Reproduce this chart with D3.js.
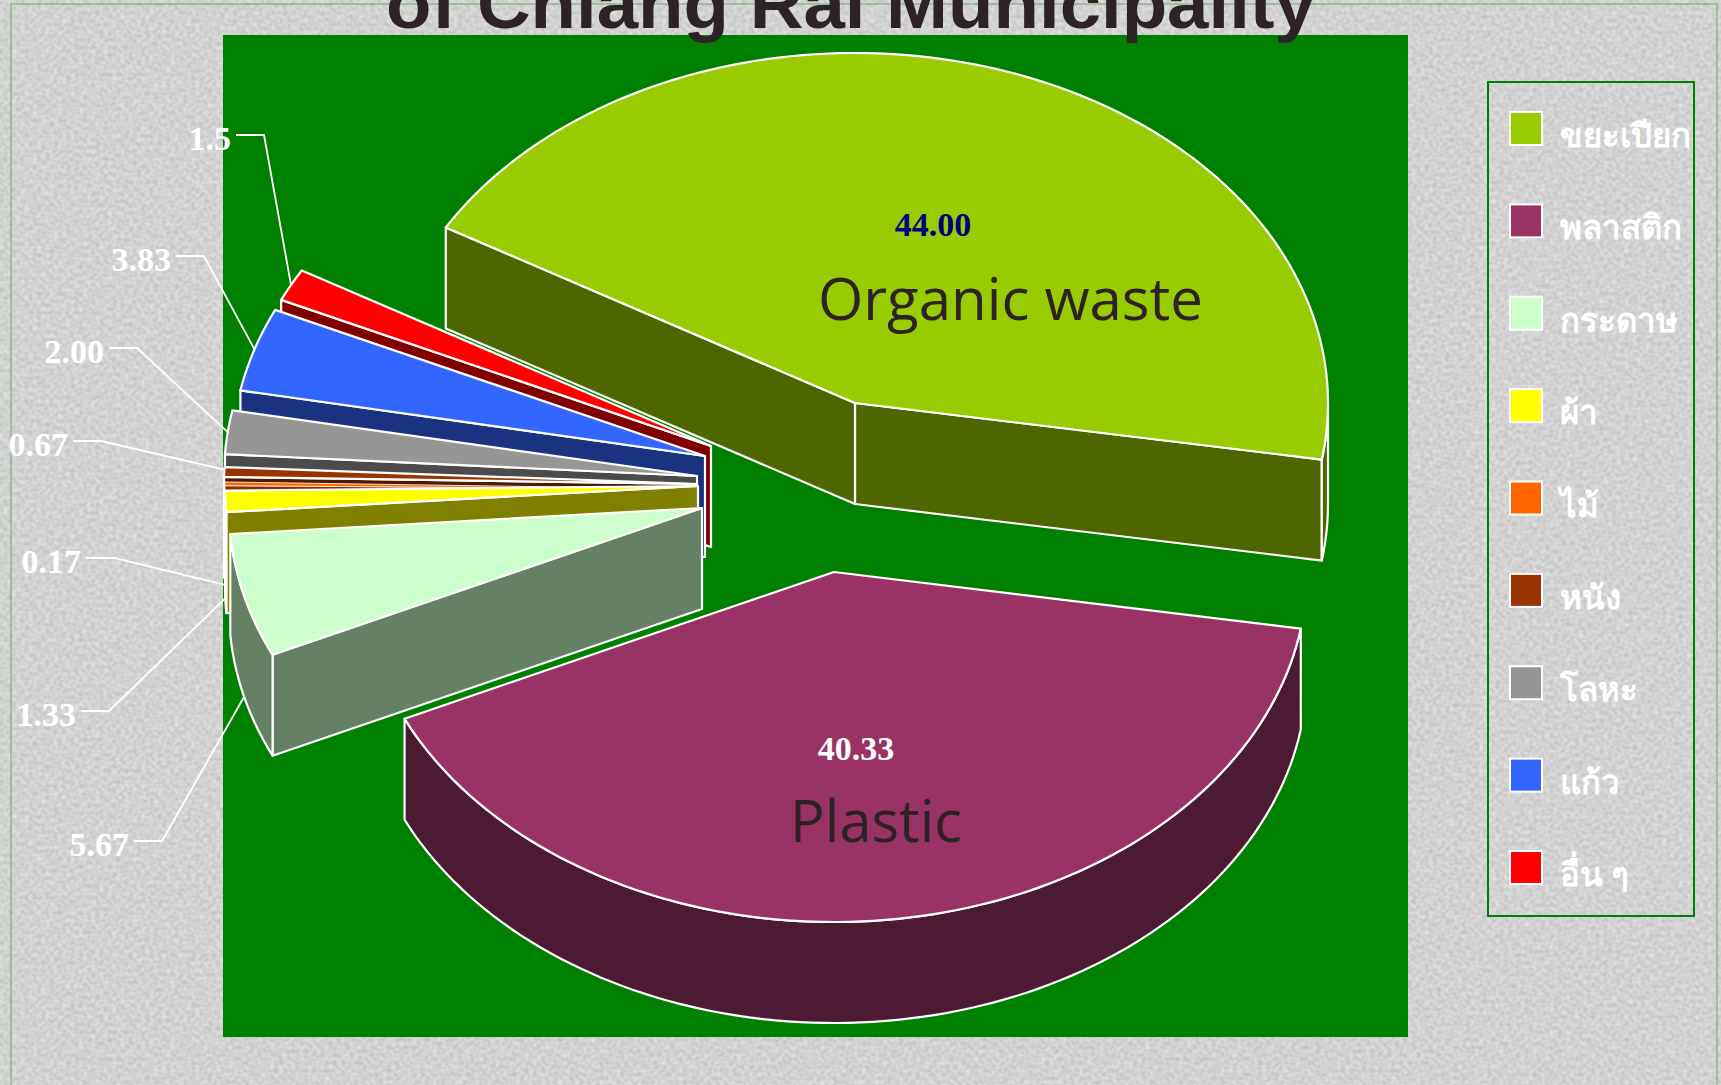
<!DOCTYPE html>
<html>
<head>
<meta charset="utf-8">
<script src="https://cdn.jsdelivr.net/npm/d3@7"></script>
<style>
  html, body { margin: 0; padding: 0; background: #d3d3d3; overflow: hidden; }
  text { font-family: "Liberation Serif", serif; }
</style>
</head>
<body>
<svg id="chart" width="1721" height="1085"></svg>
<script>
// Waste composition of Chiang Rai Municipality
const categories = ["ขยะเปียก", "พลาสติก", "กระดาษ", "ผ้า", "ไม้", "หนัง", "โลหะ", "แก้ว", "อื่น ๆ"];
const values = [44.00, 40.33, 5.67, 1.33, 0.17, 0.67, 2.00, 3.83, 1.5];
const valueLabels = ["44.00", "40.33", "5.67", "1.33", "0.17", "0.67", "2.00", "3.83", "1.5"];
const colors = ["#99CC00", "#993366", "#CCFFCC", "#FFFF00", "#FF6600", "#993300", "#969696", "#3366FF", "#FF0000"];

const W = 1721, H = 1085;
const rx = 473, ry = 350, depth = 101;
const rad = Math.PI / 180;

// exploded centre of each slice + where its callout sits
// trim: the thin slices come out a bit narrower in the original
const layout = [
  { cx: 855, cy: 403 },
  { cx: 834, cy: 572 },
  { cx: 702, cy: 508, lx: 129, ly: 856, wall: true },
  { cx: 698, cy: 486, lx: 76, ly: 726, wall: true, trim: 1.3 },
  { cx: 698, cy: 489, lx: 81, ly: 573, wall: true, line: 0.8 },
  { cx: 697, cy: 484, lx: 68, ly: 456, trim: 0.8 },
  { cx: 697, cy: 476, lx: 104, ly: 363 },
  { cx: 705, cy: 456, lx: 171, ly: 271 },
  { cx: 711, cy: 446, lx: 231, ly: 150 }
];
const paintOrder = [8, 7, 6, 5, 4, 3, 2, 0, 1];

const svg = d3.select("#chart");
const defs = svg.append("defs");

// canvas texture of the slide background
const tex = defs.append("filter").attr("id", "canvas")
  .attr("x", 0).attr("y", 0).attr("width", "100%").attr("height", "100%")
  .attr("color-interpolation-filters", "sRGB");
tex.append("feTurbulence").attr("type", "fractalNoise").attr("baseFrequency", "0.24 0.26")
  .attr("numOctaves", 1).attr("seed", 7).attr("result", "n");
tex.append("feColorMatrix").attr("in", "n").attr("type", "matrix")
  .attr("values", "0.2 0 0 0 0.725  0.2 0 0 0 0.725  0.2 0 0 0 0.725  0 0 0 0 1");

svg.append("rect").attr("width", W).attr("height", H).attr("filter", "url(#canvas)");
svg.append("rect").attr("x", 11).attr("y", 4).attr("width", 1706).attr("height", 1200)
  .attr("fill", "none").attr("stroke", "#6aaa6a").attr("stroke-width", 1);

// plot area
svg.append("rect").attr("x", 223).attr("y", 35).attr("width", 1185).attr("height", 1002).attr("fill", "#008000");

const pie = d3.pie().sort(null).value(d => d)
  .startAngle(-59.9 * rad).endAngle(300.1 * rad);
const arcs = pie(values);

const line = d3.line();

function rimPoint(i, a, down) {
  const p = layout[i];
  return [p.cx + rx * Math.sin(a), p.cy - ry * Math.cos(a) + (down ? depth : 0)];
}
function rim(i, a0, a1, down) {
  const n = Math.max(2, Math.ceil((a1 - a0) / (1.5 * rad)));
  return d3.range(n + 1).map(k => rimPoint(i, a0 + (a1 - a0) * k / n, down));
}

const g = svg.append("g")
  .attr("stroke", "#fff").attr("stroke-width", 2.2).attr("stroke-linejoin", "round");

paintOrder.forEach(i => {
  const d = arcs[i];
  const p = layout[i];
  const start = d.startAngle, stop = d.endAngle - (p.trim || 0) * rad;
  const top = d3.rgb(colors[i]);
  const dark = d3.rgb(top.r / 2, top.g / 2, top.b / 2).formatHex();
  const sg = g.append("g");
  if (p.line) sg.attr("stroke-width", p.line);

  // cut faces that look towards the viewer
  const wall = a => {
    const e = rimPoint(i, a, false);
    sg.append("path")
      .attr("d", line([[p.cx, p.cy], e, [e[0], e[1] + depth], [p.cx, p.cy + depth]]) + "Z")
      .attr("fill", dark);
  };
  if (Math.sin(stop) > 0) wall(stop);
  if (Math.sin(start) < 0) wall(start);

  // outer wall, lower half of the ellipse only
  const a0 = Math.max(start, 90 * rad), a1 = Math.min(stop, 270 * rad);
  if (a1 > a0) {
    sg.append("path")
      .attr("d", line(rim(i, a0, a1, false).concat(rim(i, a0, a1, true).reverse())) + "Z")
      .attr("fill", dark);
  }

  sg.append("path")
    .attr("d", line([[p.cx, p.cy]].concat(rim(i, start, stop, false))) + "Z")
    .attr("fill", colors[i]);
});

// callouts
layout.forEach((p, i) => {
  if (p.lx === undefined) return;
  const mid = (arcs[i].startAngle + arcs[i].endAngle) / 2;
  const end = rimPoint(i, mid, p.wall);
  const y = p.ly - 15;
  svg.append("path")
    .attr("d", line([[p.lx + 5, y], [p.lx + 33, y], end]))
    .attr("fill", "none").attr("stroke", "#fff").attr("stroke-width", 1.8);
  svg.append("text")
    .attr("x", p.lx).attr("y", p.ly).attr("text-anchor", "end")
    .attr("fill", "#fff").style("font-size", "34px").style("font-weight", "bold")
    .text(valueLabels[i]);
});

// values inside the big slices
svg.append("text").attr("x", 933).attr("y", 236).attr("text-anchor", "middle")
  .attr("fill", "#000080").style("font-size", "34px").style("font-weight", "bold").text(valueLabels[0]);
svg.append("text").attr("x", 856).attr("y", 760).attr("text-anchor", "middle")
  .attr("fill", "#fff").style("font-size", "34px").style("font-weight", "bold").text(valueLabels[1]);

svg.append("text").attr("x", 818).attr("y", 320)
  .attr("fill", "#2d2226").style("font-family", "'Open Sans'").style("font-size", "58px")
  .attr("textLength", 385).attr("lengthAdjust", "spacingAndGlyphs").text("Organic waste");
svg.append("text").attr("x", 790).attr("y", 842)
  .attr("fill", "#2d2226").style("font-family", "'Open Sans'").style("font-size", "58px")
  .attr("textLength", 172).attr("lengthAdjust", "spacingAndGlyphs").text("Plastic");

// title, its first line runs off the top of the slide
svg.append("text").attr("x", 386).attr("y", 28)
  .attr("fill", "#2d2226").style("font-family", "'Liberation Sans'").style("font-weight", "bold")
  .style("font-size", "70px").attr("textLength", 930).attr("lengthAdjust", "spacingAndGlyphs")
  .text("of Chiang Rai Municipality");

// legend
svg.append("rect").attr("x", 1488).attr("y", 82).attr("width", 206).attr("height", 834)
  .attr("fill", "none").attr("stroke", "#008000").attr("stroke-width", 2);

const legendY = d3.scalePoint().domain(d3.range(categories.length)).range([112, 851]);
const legend = svg.selectAll(".leg").data(categories).enter().append("g").attr("class", "leg")
  .attr("transform", (d, i) => `translate(1510,${legendY(i)})`);
legend.append("rect").attr("width", 32).attr("height", 33)
  .attr("fill", (d, i) => colors[i]).attr("stroke", "#fff").attr("stroke-width", 2);
legend.append("text").attr("x", 50).attr("y", 35)
  .attr("fill", "#fff").style("font-size", "33px").style("font-weight", "bold")
  .text(d => d);
</script>
</body>
</html>
